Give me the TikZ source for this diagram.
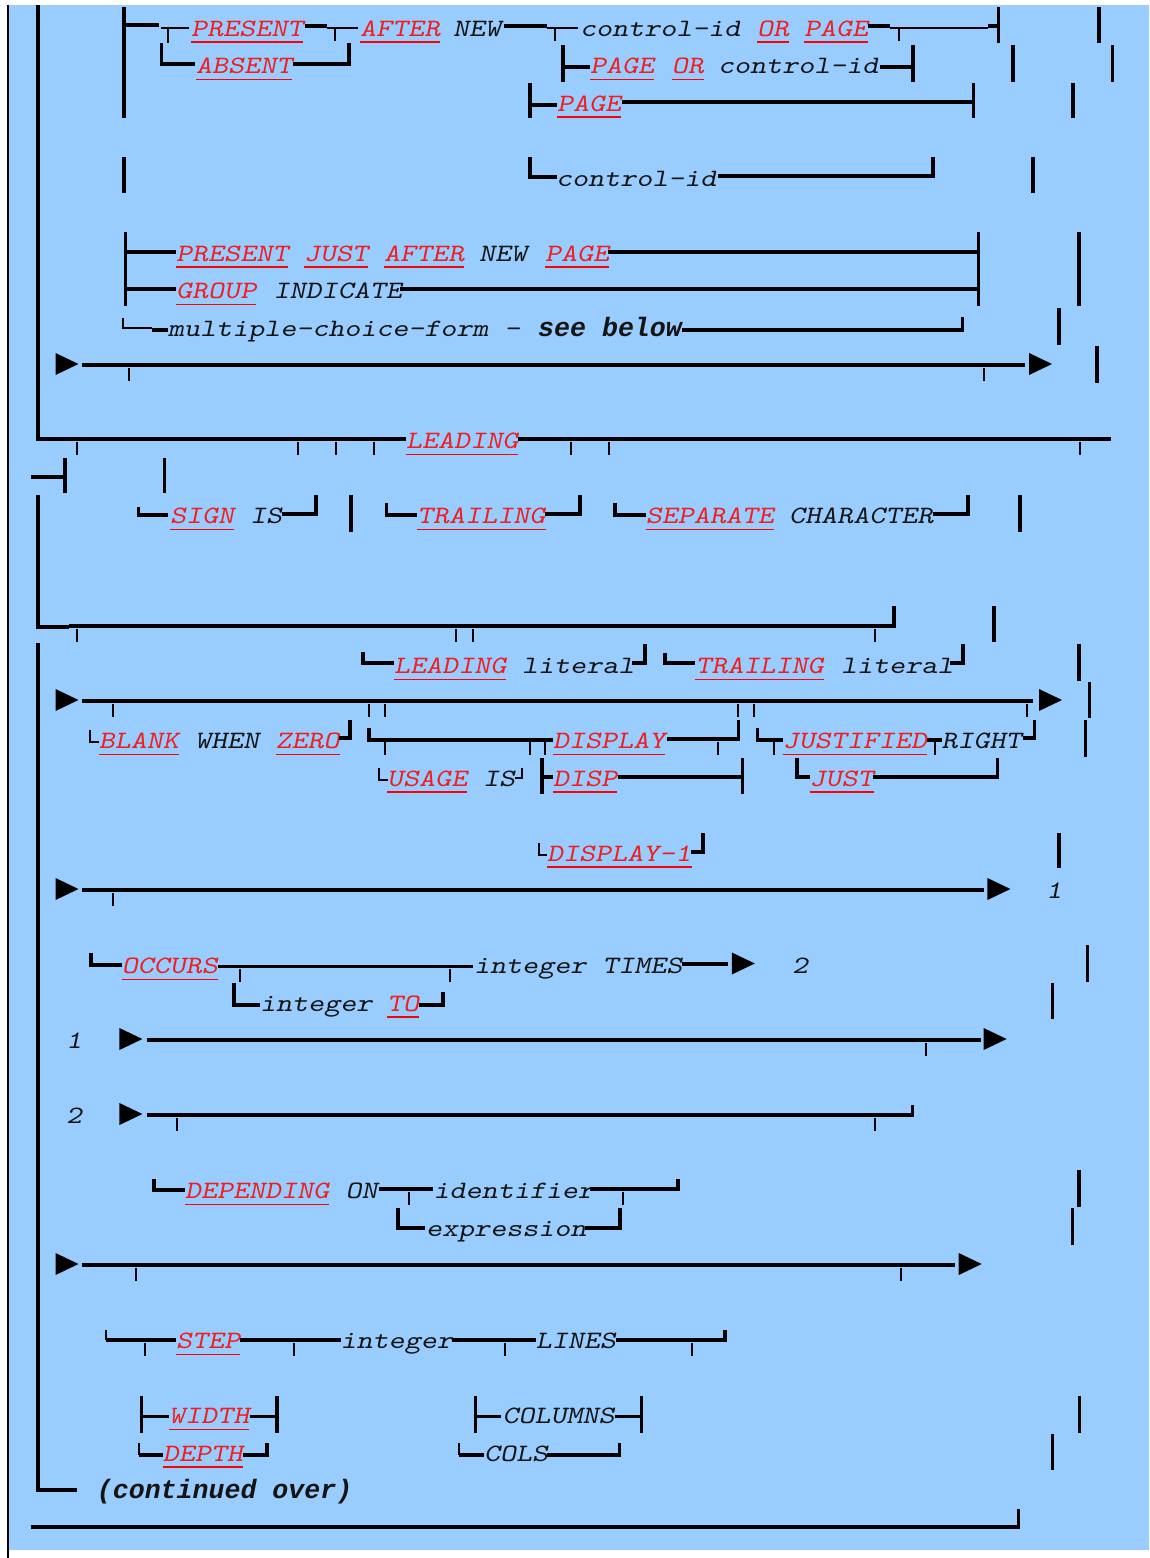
\documentclass[tikz,border=0pt]{standalone}
\usepackage{fontspec}
\newfontfamily\courfont{lmmono10-regular.otf}[ItalicFont=lmmonoslant10-regular.otf,FakeStretch=1.22]
\newfontfamily\courbold{Liberation Mono}
\definecolor{panelblue}{RGB}{153,204,255}
\definecolor{kwred}{RGB}{240,30,30}
\definecolor{ulred}{RGB}{255,0,0}
\definecolor{inkblack}{RGB}{20,20,20}
\tikzset{
	txt/.style={
		anchor=base west,
		inner sep=0pt,
		font=\courfont\itshape\fontsize{25pt}{30pt}\selectfont
	},
	kw/.style={txt,text=kwred},
	wd/.style={txt,text=inkblack},
	bd/.style={wd,font=\courbold\bfseries\itshape\fontsize{26.6pt}{30pt}\selectfont},
	uline/.style={draw=ulred,line width=1.5pt},
	ln/.style={line width=3.2pt},
	lt/.style={line width=2pt}
}
% keyword, underlined: name, x, row, text
\newcommand{\kw}[4]{%
	\node[kw] (#1) at (#2,{36+37.5*#3}) {#4};
	\draw[uline] ([yshift=-6pt]#1.base west) -- ([yshift=-6pt]#1.base east);}
% plain word: name, x, row, text
\newcommand{\word}[4]{\node[wd] (#1) at (#2,{36+37.5*#3}) {#4};}
% junction stem below a line
\newcommand{\tee}[2]{\draw[lt] (#1,#2+2) -- (#1,#2+15);}
% filled arrow head
\newcommand{\arr}[2]{\fill (#1,#2-11) -- (#1+23,#2) -- (#1,#2+11) -- cycle;}
\begin{document}
\begin{tikzpicture}[x=1pt,y=-1pt]
	\useasboundingbox (0,0) rectangle (1149,1558);
	
	% Panel
	\fill[white] (0,0) rectangle (1149,1558);
	\fill[panelblue] (8,5) rectangle (1149,1550);
	\draw[line width=1.5pt] (8,5) -- (8,1558);
	
	% Left rail
	\draw[ln] (38,5) -- (38,439) -- (69,439);
	\draw[ln] (38,495) -- (38,627) -- (69,627);
	\draw[ln] (38,643) -- (38,1490) -- (76.5,1490);
	
	% Rows 0-4: PRESENT / ABSENT
	\draw[ln] (124,7) -- (124,118);
	\draw[ln] (124,193) -- (124,157);
	\draw[ln] (124,25) -- (159,25);
	\draw[lt] (161,28) -- (189,28) (168,28) -- (168,43);
	\kw{kPresA}{191}{0}{PRESENT}
	\draw[ln] (305,26) -- (327,26);
	\draw[lt] (327,28) -- (358,28);
	\tee{335}{26}
	\kw{kAfterA}{360}{0}{AFTER}
	\word{wNewA}{453}{0}{NEW}
	\draw[ln] (504,26) -- (547,26);
	\draw[lt] (547,28) -- (578,28);
	\tee{555}{26}
	\word{wCtlA}{580}{0}{control-id}
	\kw{kOrA}{757}{0}{OR}
	\kw{kPageA}{804}{0}{PAGE}
	\draw[ln] (868,26) -- (890,26);
	\draw[lt] (890,28) -- (988,28);
	\tee{899}{26}
	\draw[ln] (988,26) -- (998.5,26) (998.5,7) -- (998.5,43);
	\draw[ln] (1099,7) -- (1099,43);
	
	\draw[ln] (161.5,43) -- (161.5,64) -- (195,64);
	\kw{kAbsent}{196}{1}{ABSENT}
	\draw[ln] (293,64) -- (349,64) -- (349,43);
	\draw[ln] (563,45) -- (563,82) (563,67) -- (590,67);
	\kw{kPageB}{590}{1}{PAGE}
	\kw{kOrB}{671.7}{1}{OR}
	\word{wCtlB}{718}{1}{control-id}
	\draw[ln] (880,67) -- (913,67) (913,45) -- (913,82);
	\draw[ln] (1013,45) -- (1013,82);
	\draw[ln] (1112.6,45) -- (1112.6,82);
	
	\draw[ln] (530,83) -- (530,118) (530,105) -- (557,105);
	\kw{kPageC}{557}{2}{PAGE}
	\draw[ln] (622,102) -- (973.6,102) (973.6,83) -- (973.6,118);
	\draw[ln] (1073,83) -- (1073,118);
	
	\draw[ln] (530,157) -- (530,177) -- (557,177);
	\word{wCtlC}{556}{4}{control-id}
	\draw[ln] (718,176) -- (933,176) -- (933,157);
	\draw[ln] (1033,157) -- (1033,193);
	
	% Rows 6-9: PRESENT JUST AFTER / GROUP INDICATE
	\draw[ln] (125.5,232) -- (125.5,306);
	\draw[ln] (125.5,252) -- (176,252);
	\kw{kPresB}{176}{6}{PRESENT}
	\kw{kJustA}{304}{6}{JUST}
	\kw{kAfterB}{384}{6}{AFTER}
	\word{wNewB}{479}{6}{NEW}
	\kw{kPageD}{545}{6}{PAGE}
	\draw[ln] (608,252) -- (978.6,252);
	\draw[ln] (978.6,232) -- (978.6,306);
	\draw[ln] (1079,232) -- (1079,306);
	
	\draw[ln] (125.5,289) -- (176,289);
	\kw{kGroup}{176}{7}{GROUP}
	\word{wIndicate}{273.5}{7}{INDICATE}
	\draw[ln] (400,289) -- (978.6,289);
	
	\draw[lt] (122.5,318) -- (122.5,328) -- (152,328);
	\draw[ln] (152,330) -- (168,330);
	\word{wMcf}{168}{8}{multiple-choice-form -}
	\node[bd] (wSee) at (538,336) {see below};
	\draw[ln] (682,330) -- (962.6,330) -- (962.6,317);
	\draw[ln] (1059,308) -- (1059,345);
	
	\arr{55.5}{364}
	\draw[ln] (82,365) -- (1024.5,365);
	\tee{129}{366}
	\tee{984}{366}
	\arr{1029}{364}
	\draw[ln] (1097,346) -- (1097,383);
	
	% Rows 11-13: SIGN
	\tee{76.5}{440}
	\draw[ln] (69,439) -- (406,439);
	\tee{298}{440}
	\tee{336}{440}
	\tee{374}{440}
	\kw{kLeadA}{406}{11}{LEADING}
	\draw[ln] (518,439) -- (1110.6,439);
	\tee{571}{440}
	\tee{609}{440}
	\tee{1080}{440}
	
	\draw[ln] (30.6,477) -- (65,477) (65,458) -- (65,493);
	\draw[ln] (164.6,458) -- (164.6,493);
	
	\draw[ln] (138.5,507) -- (138.5,515) -- (168,515);
	\kw{kSign}{170}{13}{SIGN}
	\word{wIsA}{250}{13}{IS}
	\draw[ln] (282,514) -- (316,514) -- (316,495);
	\draw[ln] (351,495) -- (351,532);
	\draw[ln] (386.5,503) -- (386.5,515) -- (417,515);
	\kw{kTrailA}{417}{13}{TRAILING}
	\draw[ln] (544.6,514) -- (580,514) -- (580,495);
	\draw[ln] (615,503) -- (615,515) -- (645.7,515);
	\kw{kSeparate}{645.7}{13}{SEPARATE}
	\word{wCharacter}{789}{13}{CHARACTER}
	\draw[ln] (932.7,514) -- (968,514) -- (968,495);
	\draw[ln] (1020,495) -- (1020,532);
	
	% Rows 16-22: literals, BLANK, USAGE, JUSTIFIED
	\draw[ln] (69,626) -- (894,626) -- (894,606);
	\tee{76.5}{627}
	\tee{456}{627}
	\tee{472.6}{627}
	\tee{875}{627}
	\draw[ln] (994,606) -- (994,642);
	
	\draw[ln] (363,652) -- (363,663) -- (394,663);
	\kw{kLeadB}{394}{17}{LEADING}
	\word{wLitA}{522}{17}{literal}
	\draw[ln] (632,663) -- (645,663) -- (645,644);
	\draw[ln] (665,653) -- (665,663) -- (695,663);
	\kw{kTrailB}{695.4}{17}{TRAILING}
	\word{wLitB}{841}{17}{literal}
	\draw[ln] (950,663) -- (963,663) -- (963,644);
	\draw[ln] (1079,644) -- (1079,681);
	
	\arr{55.5}{700}
	\draw[ln] (82,701) -- (1033,701);
	\foreach \tx in {113,369,384.6,737.5,753.6,1026.5}
		\tee{\tx}{702};
	\arr{1039}{700}
	\draw[ln] (1089.6,682) -- (1089.6,718);
	
	\draw[lt] (90,730) -- (90,742) -- (98.7,742);
	\kw{kBlank}{98.7}{19}{BLANK}
	\word{wWhen}{195}{19}{WHEN}
	\kw{kZero}{275.5}{19}{ZERO}
	\draw[ln] (338.7,738) -- (350,738) -- (350,720);
	\draw[ln] (369,728) -- (369,740) -- (553,740);
	\foreach \tx in {384.6,530,545}
		\tee{\tx}{740};
	\kw{kDisplay}{553}{19}{DISPLAY}
	\draw[ln] (666.7,739) -- (738.3,739) -- (738.3,720);
	\tee{718.4}{740}
	\draw[ln] (757.4,728) -- (757.4,740) -- (782.7,740);
	\tee{774}{740}
	\kw{kJustified}{782.7}{19}{JUSTIFIED}
	\draw[ln] (927,740) -- (942,740);
	\tee{934.6}{740}
	\word{wRight}{941.4}{19}{RIGHT}
	\draw[ln] (1022.6,738) -- (1034.5,738) -- (1034.5,720);
	\draw[ln] (1085.8,720) -- (1085.8,757);
	
	\draw[lt] (379,768) -- (379,780) -- (388.4,780);
	\kw{kUsage}{387}{20}{USAGE}
	\word{wIsB}{483}{20}{IS}
	\draw[lt] (515,778) -- (522,778) -- (522,768);
	\draw[ln] (542,758) -- (542,794) (542,777) -- (553,777);
	\kw{kDisp}{553}{20}{DISP}
	\draw[ln] (618,777) -- (742.5,777) (742.5,758) -- (742.5,794);
	\draw[ln] (797,758) -- (797,777) -- (809.5,777);
	\kw{kJustB}{809.5}{20}{JUST}
	\draw[ln] (873.4,777) -- (997.8,777) -- (997.8,758);
	
	\draw[lt] (539,843) -- (539,855) -- (547,855);
	\kw{kDisplayOne}{547}{22}{DISPLAY-1}
	\draw[ln] (691,852) -- (703,852) -- (703,833);
	\draw[ln] (1059,833) -- (1059,868);
	
	% Rows 23-29: OCCURS
	\arr{55.5}{889}
	\draw[ln] (82,890) -- (984,890);
	\tee{113}{891}
	\arr{987.4}{889}
	\word{wOneA}{1046}{23}{1}
	
	\draw[ln] (91,953) -- (91,965) -- (121.7,965);
	\kw{kOccurs}{121.7}{25}{OCCURS}
	\draw[ln] (218,966.5) -- (472.6,966.5);
	\tee{240}{967}
	\tee{449.7}{967}
	\word{wIntTimes}{474}{25}{integer TIMES}
	\draw[ln] (682,964) -- (728,964);
	\arr{731.8}{963.5}
	\word{wTwoA}{792}{25}{2}
	\draw[ln] (1087.7,945) -- (1087.7,981.7);
	
	\draw[ln] (234,983) -- (234,1005) -- (260,1005);
	\word{wIntA}{260}{26}{integer}
	\kw{kTo}{387}{26}{TO}
	\draw[ln] (419,1005) -- (443,1005) -- (443,991.7);
	\draw[ln] (1052.5,983) -- (1052.5,1019);
	
	\word{wOneB}{66}{27}{1}
	\arr{119.4}{1039}
	\draw[ln] (146.6,1040) -- (980.5,1040);
	\tee{925.8}{1041}
	\arr{983.6}{1039}
	
	\word{wTwoB}{66}{29}{2}
	\arr{119.4}{1114}
	\draw[ln] (146.6,1115) -- (912.8,1115) -- (912.8,1105);
	\tee{176.8}{1116}
	\tee{874.5}{1116}
	
	% Rows 31-33: DEPENDING ON
	\draw[ln] (154,1179) -- (154,1190) -- (184.8,1190);
	\kw{kDepending}{184.8}{31}{DEPENDING}
	\word{wOn}{345.5}{31}{ON}
	\draw[ln] (378.9,1189) -- (432.5,1189);
	\tee{408.7}{1190}
	\word{wIdent}{433.5}{31}{identifier}
	\draw[ln] (590,1189) -- (678,1189) -- (678,1179);
	\tee{622.7}{1190}
	\draw[ln] (1079,1170) -- (1079,1206.7);
	
	\draw[ln] (398,1208) -- (398,1228) -- (424.8,1228);
	\word{wExpr}{426}{32}{expression}
	\draw[ln] (585,1228) -- (620,1228) -- (620,1208);
	\draw[ln] (1072.4,1208) -- (1072.4,1245);
	
	\arr{55.5}{1264}
	\draw[ln] (82,1265) -- (955,1265);
	\tee{135.9}{1266}
	\tee{901.3}{1266}
	\arr{958.7}{1264}
	
	% Rows 35-38: STEP / WIDTH / DEPTH
	\draw[lt] (106.4,1330) -- (106.4,1340);
	\draw[ln] (106.4,1340) -- (176,1340);
	\tee{144.7}{1341}
	\kw{kStep}{176}{35}{STEP}
	\draw[ln] (240,1340) -- (340.6,1340);
	\tee{293.5}{1341}
	\word{wIntB}{340.5}{35}{integer}
	\draw[ln] (451.6,1340) -- (535.8,1340);
	\tee{505.2}{1341}
	\word{wLines}{535.7}{35}{LINES}
	\draw[ln] (615.8,1340) -- (725,1340) -- (725,1330);
	\tee{692.4}{1341}
	
	\draw[ln] (141.6,1396) -- (141.6,1432.7) (141.6,1416.7) -- (169,1416.7);
	\kw{kWidth}{169}{37}{WIDTH}
	\draw[ln] (249.5,1416.7) -- (277,1416.7) (277,1396) -- (277,1432.7);
	\draw[ln] (475.3,1396) -- (475.3,1432.7) (475.3,1416.7) -- (501.3,1416.7);
	\word{wColumns}{502.4}{37}{COLUMNS}
	\draw[ln] (615,1416.7) -- (641.8,1416.7) (641.8,1396) -- (641.8,1432.7);
	\draw[ln] (1079.3,1396) -- (1079.3,1432.7);
	
	\draw[lt] (138.5,1443) -- (138.5,1455);
	\draw[ln] (138.5,1455) -- (162.6,1455);
	\kw{kDepth}{162.6}{38}{DEPTH}
	\draw[ln] (243,1455) -- (267,1455) -- (267,1442.7);
	\draw[lt] (459,1443) -- (459,1455);
	\draw[ln] (459,1455) -- (484,1455);
	\word{wCols}{484}{38}{COLS}
	\draw[ln] (547,1455) -- (619.7,1455) -- (619.7,1442.7);
	\draw[ln] (1052.5,1434) -- (1052.5,1470);
	
	% Footer
	\node[bd] (wCont) at (96.7,1498.5) {(continued over)};
	\draw[ln] (30.6,1527) -- (1018.8,1527) -- (1018.8,1509);
	
\end{tikzpicture}
\end{document}
